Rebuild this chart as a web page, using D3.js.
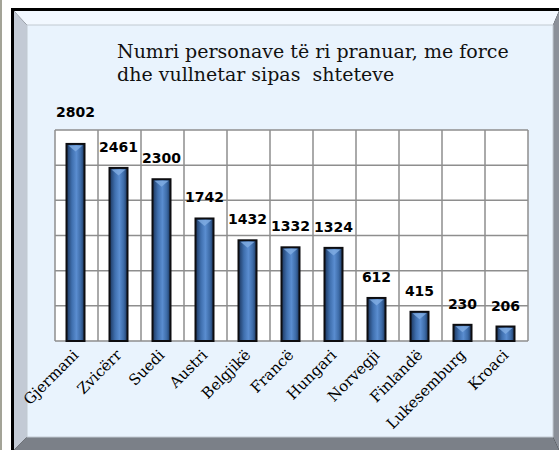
<!DOCTYPE html>
<html>
<head>
<meta charset="utf-8">
<script src="https://cdn.jsdelivr.net/npm/d3@7"></script>
<style>
  body { margin: 0; background: #fff; }
  svg { display: block; }
</style>
</head>
<body>
<script>
const countries = ["Gjermani", "Zvicërr", "Suedi", "Austri", "Belgjikë", "Francë",
  "Hungari", "Norvegji", "Finlandë", "Lukesemburg", "Kroaci"];
const values = [2802, 2461, 2300, 1742, 1432, 1332, 1324, 612, 415, 230, 206];
const yTicks = [0, 500, 1000, 1500, 2000, 2500, 3000];
const titleLines = ["Numri personave të ri pranuar, me force", "dhe vullnetar sipas  shteteve"];

const WIDTH = 559;
const HEIGHT = 450;
const PLOT = { left: 55, right: 528, top: 130, bottom: 341 };

const svg = d3.select("body").append("svg")
  .attr("width", WIDTH)
  .attr("height", HEIGHT);

const defs = svg.append("defs");
const grad = defs.append("linearGradient")
  .attr("id", "barGrad")
  .attr("x1", "0").attr("x2", "1").attr("y1", "0").attr("y2", "0");
grad.append("stop").attr("offset", "0%").attr("stop-color", "#1b355c");
grad.append("stop").attr("offset", "30%").attr("stop-color", "#3f6fae");
grad.append("stop").attr("offset", "55%").attr("stop-color", "#5a8dd0");
grad.append("stop").attr("offset", "80%").attr("stop-color", "#3c6aa6");
grad.append("stop").attr("offset", "100%").attr("stop-color", "#1b355c");

// frame
svg.append("rect").attr("x", 0).attr("y", 0).attr("width", 2).attr("height", HEIGHT).attr("fill", "#a3a397");
svg.append("rect").attr("x", 11).attr("y", 8).attr("width", WIDTH - 11).attr("height", HEIGHT - 8).attr("fill", "#000");
// bevel faces
svg.append("polygon").attr("points", "14,11 559,11 553,25 27,25").attr("fill", "#f2f8ff");
svg.append("polygon").attr("points", "14,11 27,25 27,437 14,450").attr("fill", "#c3cad5");
svg.append("polygon").attr("points", "559,11 559,450 553,437 553,25").attr("fill", "#8b9099");
svg.append("polygon").attr("points", "14,450 27,437 553,437 559,450").attr("fill", "#7b8088");
svg.append("rect").attr("x", 27).attr("y", 25).attr("width", 526).attr("height", 412)
  .attr("fill", "#e9f3fd").attr("stroke", "#c2c9d2").attr("stroke-width", 1);

// title
const title = svg.append("text")
  .attr("x", 117)
  .attr("y", 58)
  .attr("font-family", "DejaVu Serif")
  .attr("font-size", 19)
  .attr("fill", "#111");
title.selectAll("tspan")
  .data(titleLines)
  .enter()
  .append("tspan")
  .attr("x", 117)
  .attr("dy", (d, i) => i === 0 ? 0 : 23)
  .style("white-space", "pre")
  .attr("xml:space", "preserve")
  .text(d => d);

const x = d3.scaleBand()
  .domain(countries)
  .range([PLOT.left, PLOT.right])
  .paddingInner(0)
  .paddingOuter(0);

const y = d3.scaleLinear()
  .domain([0, 3000])
  .range([PLOT.bottom, PLOT.top]);

// plot area
svg.append("rect")
  .attr("x", PLOT.left).attr("y", PLOT.top)
  .attr("width", PLOT.right - PLOT.left).attr("height", PLOT.bottom - PLOT.top)
  .attr("fill", "#fff");

const grid = svg.append("g").attr("stroke", "#8e8e8e").attr("stroke-width", 1.5);
grid.selectAll("line.h")
  .data(yTicks)
  .enter()
  .append("line")
  .attr("class", "h")
  .attr("x1", PLOT.left).attr("x2", PLOT.right)
  .attr("y1", d => y(d)).attr("y2", d => y(d));
grid.selectAll("line.v")
  .data(countries.concat(["__end"]))
  .enter()
  .append("line")
  .attr("class", "v")
  .attr("x1", d => d === "__end" ? PLOT.right : x(d))
  .attr("x2", d => d === "__end" ? PLOT.right : x(d))
  .attr("y1", PLOT.top).attr("y2", PLOT.bottom);

const BAR_W = 18;
const bars = svg.append("g");
bars.selectAll("rect")
  .data(values)
  .enter()
  .append("rect")
  .attr("x", (d, i) => x(countries[i]) + x.bandwidth() / 2 - BAR_W / 2 - 1)
  .attr("y", d => y(d))
  .attr("width", BAR_W)
  .attr("height", d => y(0) - y(d))
  .attr("fill", "url(#barGrad)")
  .attr("stroke", "#0d0d10")
  .attr("stroke-width", 2);

// small bevel triangle on top of each bar
bars.selectAll("polygon")
  .data(values)
  .enter()
  .append("polygon")
  .attr("points", (d, i) => {
    const cx = x(countries[i]) + x.bandwidth() / 2 - 1;
    const t = y(d) + 1.5;
    return `${cx - 7},${t} ${cx + 7},${t} ${cx},${t + 6}`;
  })
  .attr("fill", "#82aee3")
  .attr("opacity", 0.8);

// value labels
svg.append("g").selectAll("text")
  .data(values)
  .enter()
  .append("text")
  .attr("x", (d, i) => x(countries[i]) + x.bandwidth() / 2 - 1)
  .attr("y", d => (y(d) - 16 < PLOT.top) ? PLOT.top - 13 : y(d) - 16)
  .attr("text-anchor", "middle")
  .attr("font-family", "DejaVu Sans")
  .attr("font-weight", "bold")
  .attr("font-size", 14)
  .attr("fill", "#000")
  .text(d => d);

// category labels
svg.append("g").selectAll("text")
  .data(countries)
  .enter()
  .append("text")
  .attr("transform", d => `translate(${x(d) + x.bandwidth() / 2 + 3},${PLOT.bottom + 15}) rotate(-45)`)
  .attr("text-anchor", "end")
  .attr("font-family", "DejaVu Serif")
  .attr("font-size", 15)
  .attr("fill", "#000")
  .text(d => d);
</script>
</body>
</html>
